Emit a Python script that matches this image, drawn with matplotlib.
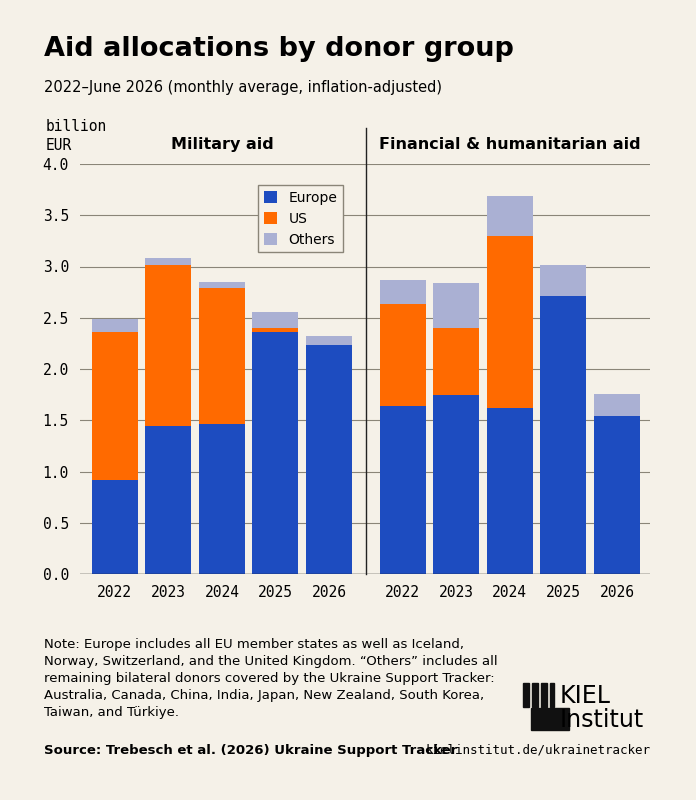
import numpy as np
import matplotlib.pyplot as plt
from matplotlib.patches import Rectangle

years = ["2022", "2023", "2024", "2025", "2026"]
# military aid, billion EUR per month
mil_europe = [0.92, 1.44, 1.46, 2.36, 2.23]
mil_us = [1.44, 1.57, 1.33, 0.04, 0.0]
mil_others = [0.13, 0.07, 0.06, 0.16, 0.09]
# financial & humanitarian aid
fin_europe = [1.64, 1.75, 1.62, 2.71, 1.54]
fin_us = [0.99, 0.65, 1.68, 0.0, 0.0]
fin_others = [0.24, 0.44, 0.39, 0.30, 0.22]

BG = "#f5f1e8"
C_EU = "#1d4cc0"
C_US = "#ff6a00"
C_OT = "#aab0d3"
GRID = "#8a8578"

fig = plt.figure(figsize=(6.96, 8), dpi=100, facecolor=BG)
ax = fig.add_axes([0.115, 0.2825, 0.819, 0.5125], facecolor=BG)

x_mil = np.arange(5)
x_fin = np.arange(5) + 5.38
w = 0.86
for xs, eu, us, ot in [(x_mil, mil_europe, mil_us, mil_others),
                       (x_fin, fin_europe, fin_us, fin_others)]:
    eu = np.array(eu); us = np.array(us); ot = np.array(ot)
    ax.bar(xs, eu, w, color=C_EU, label="Europe", zorder=3)
    ax.bar(xs, us, w, bottom=eu, color=C_US, label="US", zorder=3)
    ax.bar(xs, ot, w, bottom=eu + us, color=C_OT, label="Others", zorder=3)

ax.set_xlim(-0.65, 10.0)
ax.set_ylim(0, 4.0)
ax.set_yticks(np.arange(0, 4.01, 0.5))
ax.set_yticklabels([f"{v:.1f}" for v in np.arange(0, 4.01, 0.5)],
                   family="DejaVu Sans Mono", fontsize=10.5)
ax.set_xticks(list(x_mil) + list(x_fin))
ax.set_xticklabels(years + years, family="DejaVu Sans Mono", fontsize=10.5)
ax.tick_params(length=0, pad=8)
ax.grid(axis="y", color=GRID, lw=0.8, zorder=0)
for s in ax.spines.values():
    s.set_visible(False)
ax.axhline(0, color="#222222", lw=1, zorder=4)
ax.plot([4.69, 4.69], [0, 4.35], color="#222222", lw=1, clip_on=False, zorder=4)

ax.text(2, 4.19, "Military aid", ha="center", va="center", fontsize=11.5, weight="bold")
ax.text(7.38, 4.19, "Financial & humanitarian aid", ha="center", va="center",
        fontsize=11.5, weight="bold")
fig.text(0.066, 0.83, "billion\nEUR", ha="left", va="center",
         family="DejaVu Sans Mono", fontsize=10.5, linespacing=1.3)

h, l = ax.get_legend_handles_labels()
leg = ax.legend(h[:3], l[:3], loc="upper left", bbox_to_anchor=(0.3, 0.965),
                fontsize=10, frameon=True, fancybox=False, edgecolor=GRID,
                facecolor=BG, framealpha=1, handlelength=1, handleheight=1)
leg.get_frame().set_linewidth(1)

fig.text(0.063, 0.93, "Aid allocations by donor group", fontsize=19.5, weight="bold")
fig.text(0.063, 0.885, "2022–June 2026 (monthly average, inflation-adjusted)", fontsize=10.5)

note = ("Note: Europe includes all EU member states as well as Iceland,\n"
        "Norway, Switzerland, and the United Kingdom. “Others” includes all\n"
        "remaining bilateral donors covered by the Ukraine Support Tracker:\n"
        "Australia, Canada, China, India, Japan, New Zealand, South Korea,\n"
        "Taiwan, and Türkiye.")
fig.text(0.063, 0.203, note, fontsize=9.5, va="top", linespacing=1.4)
fig.text(0.063, 0.062, "Source: Trebesch et al. (2026) Ukraine Support Tracker",
         fontsize=9.5, weight="bold", va="center")
fig.text(0.934, 0.062, "kielinstitut.de/ukrainetracker", fontsize=9,
         family="DejaVu Sans Mono", ha="right", va="center")

# logo
lx = 523 / 696
for i, (bw, bh) in enumerate([(6, 24), (6, 24), (6, 24), (4, 24)]):
    fig.add_artist(Rectangle((lx + i * 9 / 696, 93 / 800), bw / 696, bh / 800,
                             color="#111111", transform=fig.transFigure))
fig.add_artist(Rectangle((lx + 8 / 696, 70 / 800), 38 / 696, 22 / 800,
                         color="#111111", transform=fig.transFigure))
fig.text(560 / 696, 104 / 800, "KIEL", fontsize=17, va="center", ha="left")
fig.text(560 / 696, 80 / 800, "Institut", fontsize=17, va="center", ha="left",
         weight="medium")

fig.savefig("out.png", dpi=100, facecolor=BG)
